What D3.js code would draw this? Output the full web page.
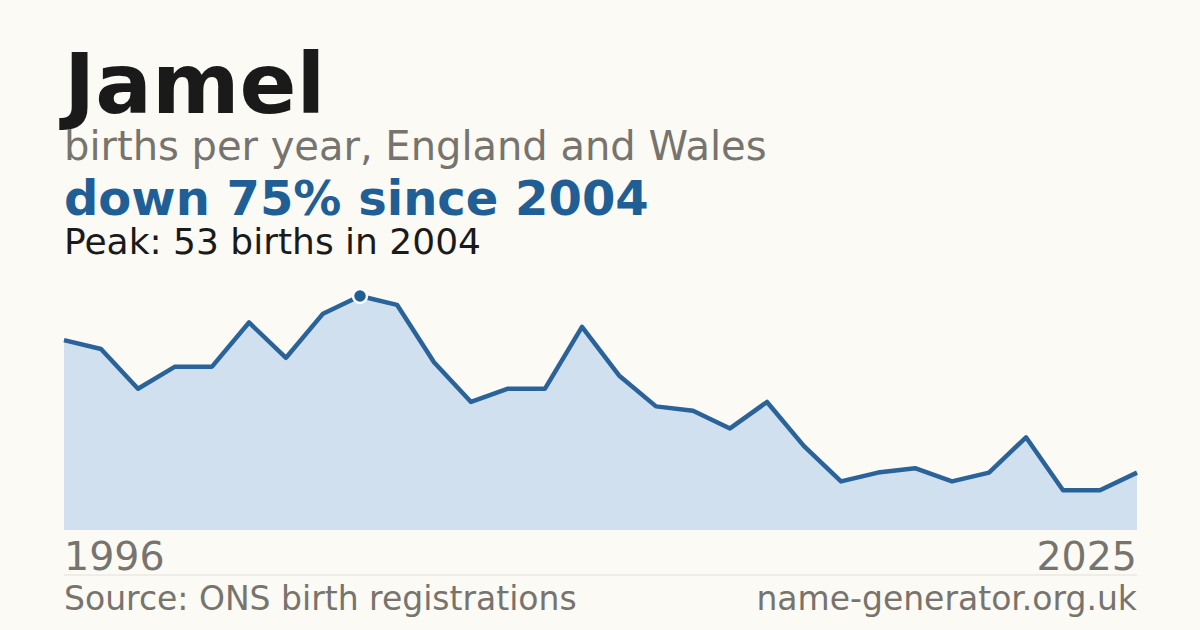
<!DOCTYPE html>
<html><head><meta charset="utf-8">
<script src="https://cdn.jsdelivr.net/npm/d3@7"></script>
<style>body{margin:0;background:#fbfaf5;}svg{display:block;font-family:"DejaVu Sans",sans-serif;}</style>
</head><body><div id="canvas"></div>
<script>
var years = d3.range(1996, 2026);
var births = [43,41,32,37,37,47,39,49,53,51,38,29,32,32,46,35,28,27,23,29,19,11,13,14,11,13,21,9,9,13];
var peakYear = 2004;

var canvasWidth = 1200, canvasHeight = 630;
var svg = d3.select("#canvas").append("svg")
    .attr("width", canvasWidth).attr("height", canvasHeight);
svg.append("rect").attr("width", canvasWidth).attr("height", canvasHeight).attr("fill", "#fbfaf5");

var x = d3.scaleLinear().domain([1996, 2025]).range([64, 1137]);
var y = d3.scaleLinear().domain([0, 53]).range([530, 296]);
var data = years.map(function(d, i){ return {year: d, value: births[i]}; });

svg.append("path").datum(data)
    .attr("fill", "#d0e0ef")
    .attr("d", d3.area().x(function(d){return x(d.year);}).y0(y(0)).y1(function(d){return y(d.value);}));
svg.append("path").datum(data)
    .attr("fill", "none").attr("stroke", "#2a6399").attr("stroke-width", 4.5)
    .attr("stroke-linejoin", "round")
    .attr("d", d3.line().x(function(d){return x(d.year);}).y(function(d){return y(d.value);}));

var peak = data.find(function(d){return d.year == peakYear;});
svg.append("circle").attr("cx", x(peak.year)).attr("cy", y(peak.value)).attr("r", 7)
    .attr("fill", "#1f5f96").attr("stroke", "#fff").attr("stroke-width", 2.5);

function txt(t, xx, yy, size, color, weight, anchor){
    svg.append("text").attr("x", xx).attr("y", yy).attr("font-size", size)
        .attr("fill", color).attr("font-weight", weight || "normal")
        .attr("text-anchor", anchor || "start").text(t);
}
txt("Jamel", 64, 113, 84, "#1a1a1a", "bold");
txt("births per year, England and Wales", 64, 160, 40, "#77736d");
txt("down 75% since 2004", 64, 215, 48, "#1f5f96", "bold");
txt("Peak: 53 births in 2004", 64, 254, 36, "#1a1a1a");
txt("1996", 64, 570, 39.5, "#77736d");
txt("2025", 1137, 570, 39.5, "#77736d", "normal", "end");
svg.append("line").attr("x1", 64).attr("x2", 1137).attr("y1", 575).attr("y2", 575)
    .attr("stroke", "#e2e0da").attr("stroke-width", 1);
txt("Source: ONS birth registrations", 64, 610, 33, "#77736d");
txt("name-generator.org.uk", 1137, 610, 33, "#77736d", "normal", "end");
</script></body></html>
